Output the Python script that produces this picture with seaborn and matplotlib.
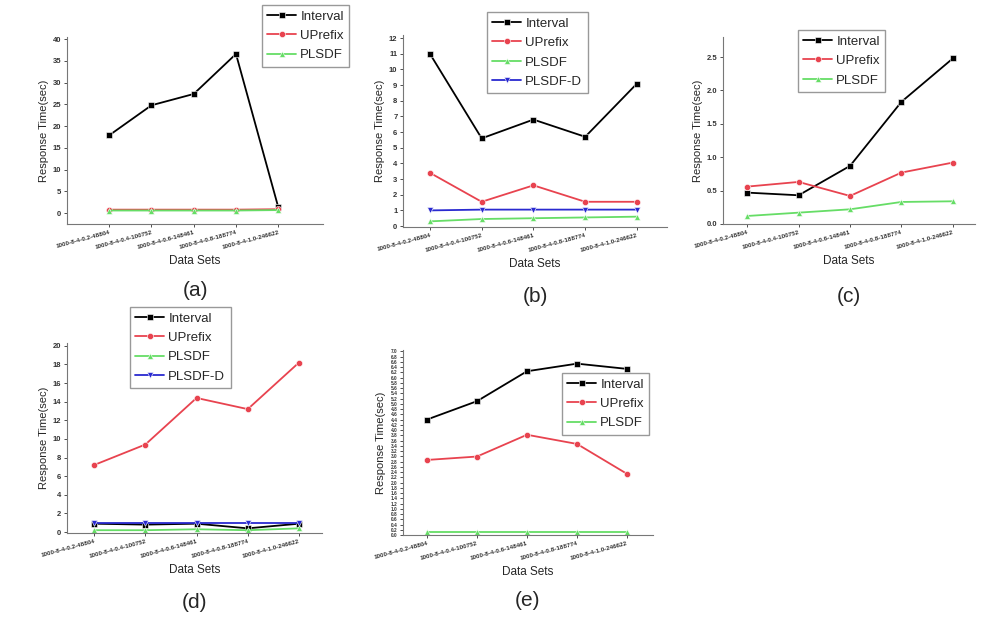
import numpy as np
import pandas as pd
import seaborn as sns
import matplotlib.pyplot as plt

# data sets on the x axis (same five for every panel)
data_sets = ["1000-8-4-0.2-48804", "1000-8-4-0.4-100752", "1000-8-4-0.6-148461",
             "1000-8-4-0.8-188774", "1000-8-4-1.0-246622"]

# (a)
a_interval = [17.9, 24.8, 27.4, 36.6, 1.4]
a_uprefix = [0.8, 0.8, 0.8, 0.8, 0.9]
a_plsdf = [0.6, 0.6, 0.6, 0.6, 0.7]

# (b)
b_interval = [11.0, 5.6, 6.8, 5.7, 9.1]
b_uprefix = [3.4, 1.55, 2.6, 1.55, 1.55]
b_plsdf = [0.3, 0.45, 0.5, 0.55, 0.6]
b_plsdf_d = [1.0, 1.05, 1.05, 1.05, 1.05]

# (c)
c_interval = [0.47, 0.43, 0.87, 1.83, 2.48]
c_uprefix = [0.56, 0.63, 0.42, 0.77, 0.92]
c_plsdf = [0.12, 0.17, 0.22, 0.33, 0.34]

# (d)
d_interval = [0.9, 0.8, 0.9, 0.4, 0.9]
d_uprefix = [7.2, 9.4, 14.4, 13.2, 18.2]
d_plsdf = [0.2, 0.2, 0.3, 0.2, 0.4]
d_plsdf_d = [1.0, 1.0, 1.0, 1.0, 1.0]

# (e)
e_interval = [4.4, 5.1, 6.24, 6.53, 6.33]
e_uprefix = [2.86, 2.99, 3.82, 3.47, 2.33]
e_plsdf = [0.13, 0.13, 0.13, 0.13, 0.13]

colors = {"Interval": "black", "UPrefix": "#e8434f", "PLSDF": "#66dd66", "PLSDF-D": "#2a2ad0"}
marks = {"Interval": "s", "UPrefix": "o", "PLSDF": "^", "PLSDF-D": "v"}

sns.set_theme(style="white")
plt.rcParams["font.family"] = ["Liberation Sans", "DejaVu Sans"]

W, H = 981, 618
fig = plt.figure(figsize=(W / 100, H / 100), dpi=100)


def px_axes(x0, x1, y0, y1):
    return fig.add_axes([x0 / W, 1 - y1 / H, (x1 - x0) / W, (y1 - y0) / H])


def panel(box, series, xlim, ylim, yticks, ytick_fmt, leg_xy, tag, ylab_size=5.5):
    ax = px_axes(*box)
    rows = []
    for name, vals in series.items():
        for i, v in enumerate(vals):
            rows.append({"idx": i, "time": v, "method": name})
    df = pd.DataFrame(rows)
    names = list(series.keys())
    sns.lineplot(data=df, x="idx", y="time", hue="method", style="method",
                 hue_order=names, style_order=names,
                 palette={n: colors[n] for n in names},
                 markers={n: marks[n] for n in names}, dashes=False,
                 markersize=4.5, markeredgewidth=0.4, linewidth=1.3, ax=ax)
    ax.set_xlim(*xlim)
    ax.set_ylim(*ylim)
    ax.set_xticks(range(len(data_sets)))
    ax.set_xticklabels(data_sets, rotation=15, ha="right", rotation_mode="anchor",
                       fontsize=4.5, fontweight="bold")
    ax.set_yticks(yticks)
    ax.set_yticklabels([ytick_fmt.format(t) for t in yticks], fontsize=ylab_size,
                       fontweight="bold")
    for s in ["top", "right"]:
        ax.spines[s].set_visible(False)
    for s in ["left", "bottom"]:
        ax.spines[s].set_color("#777777")
        ax.spines[s].set_linewidth(0.8)
    ax.tick_params(axis="both", direction="out", length=2.5, width=0.6, pad=1.5,
                   colors="#333333", bottom=True, left=True)
    ax.set_xlabel("Data Sets", fontsize=8.5, labelpad=4)
    ax.set_ylabel("Response Time(sec)", fontsize=8, labelpad=3)
    ax.get_legend().remove()
    handles, labels = ax.get_legend_handles_labels()
    fig.legend(handles, labels, loc="upper left",
               bbox_to_anchor=(leg_xy[0] / W, 1 - leg_xy[1] / H),
               bbox_transform=fig.transFigure, fontsize=9.5, frameon=True,
               fancybox=False, edgecolor="#999999", framealpha=1,
               handlelength=2.2, handletextpad=0.3, labelspacing=0.55,
               borderpad=0.4, borderaxespad=0)
    cx = (box[0] + box[1]) / 2
    fig.text(cx / W, 1 - tag[1] / H, tag[0], ha="center", va="center", fontsize=15)
    return ax


panel((67, 323, 37, 224),
      {"Interval": a_interval, "UPrefix": a_uprefix, "PLSDF": a_plsdf},
      (-1.0, 5.06), (-2.5, 40.5), np.arange(0, 41, 5), "{:.0f}",
      (262, 5), ("(a)", 291))

panel((403, 667, 35, 227),
      {"Interval": b_interval, "UPrefix": b_uprefix, "PLSDF": b_plsdf, "PLSDF-D": b_plsdf_d},
      (-0.52, 4.58), (-0.06, 12.2), np.arange(0, 13, 1), "{:.0f}",
      (487, 12), ("(b)", 297))

panel((723, 975, 37, 224),
      {"Interval": c_interval, "UPrefix": c_uprefix, "PLSDF": c_plsdf},
      (-0.47, 4.43), (0, 2.8), np.arange(0, 2.51, 0.5), "{:.1f}",
      (798, 30), ("(c)", 297))

panel((67, 322, 343, 533),
      {"Interval": d_interval, "UPrefix": d_uprefix, "PLSDF": d_plsdf, "PLSDF-D": d_plsdf_d},
      (-0.53, 4.45), (-0.1, 20.3), np.arange(0, 21, 2), "{:.0f}",
      (130, 307), ("(d)", 603))

panel((403, 653, 350, 535),
      {"Interval": e_interval, "UPrefix": e_uprefix, "PLSDF": e_plsdf},
      (-0.48, 4.52), (0, 7.05), np.round(np.arange(0, 7.01, 0.2), 1), "{:.1f}",
      (562, 373), ("(e)", 600), ylab_size=3.4)

fig.savefig("out.png", dpi=100)
